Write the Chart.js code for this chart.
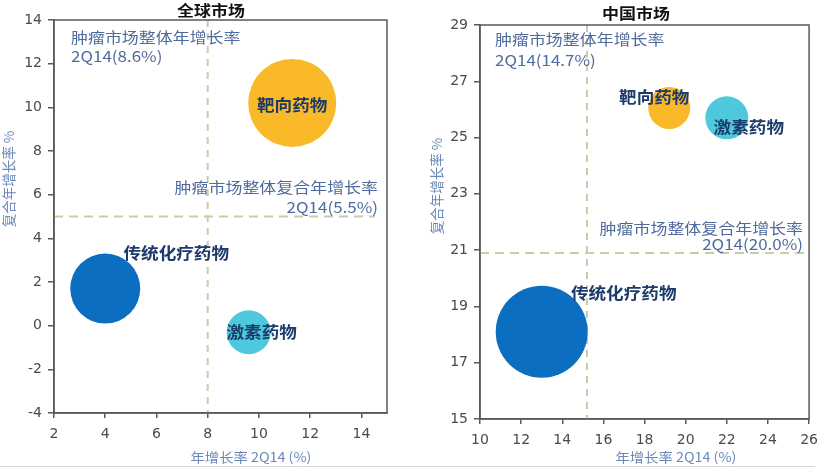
<!DOCTYPE html>
<html>
<head>
<meta charset="utf-8">
<script src="https://cdn.jsdelivr.net/npm/chart.js@4.4.1/dist/chart.umd.min.js"></script>
<style>
  html, body { margin:0; padding:0; background:#fff; }
  #wrap { position:relative; width:826px; height:474px; overflow:hidden; background:#fff; }
  #c1 { position:absolute; left:0; top:0; }
  #c2 { position:absolute; left:413px; top:0; }
  #sep { position:absolute; left:0; top:466px; width:815px; height:1px; background:#d4d4d4; }
</style>
</head>
<body>
<div id="wrap">
  <canvas id="c1" width="413" height="474"></canvas>
  <canvas id="c2" width="413" height="474"></canvas>
  <div id="sep"></div>
</div>
<script>
// ---------- DATA ----------
const categories = ['靶向药物', '传统化疗药物', '激素药物'];

const globalX    = [11.3, 4.0, 9.6];
const globalY    = [10.2, 1.7, -0.3];
const globalSize = [44, 35, 22];

const chinaX     = [19.2, 13.0, 22.0];
const chinaY     = [26.05, 18.1, 25.7];
const chinaSize  = [21, 46, 21.5];

const globalXTicks = [2, 4, 6, 8, 10, 12, 14];
const globalYTicks = [-4, -2, 0, 2, 4, 6, 8, 10, 12, 14];
const chinaXTicks  = [10, 12, 14, 16, 18, 20, 22, 24, 26];
const chinaYTicks  = [15, 17, 19, 21, 23, 25, 27, 29];

const globalRefX = 8.0;   // 肿瘤市场整体年增长率 line
const globalRefY = 5.0;   // 肿瘤市场整体复合年增长率 line
const chinaRefX  = 15.2;
const chinaRefY  = 20.9;

const titles     = ['全球市场', '中国市场'];
const xAxisTitle = '年增长率 2Q14 (%)';
const yAxisTitle = '复合年增长率 %';
const annoYearLabel = '肿瘤市场整体年增长率';
const annoCagrLabel = '肿瘤市场整体复合年增长率';
const globalAnno = ['2Q14(8.6%)', '2Q14(5.5%)'];
const chinaAnno  = ['2Q14(14.7%)', '2Q14(20.0%)'];

// ---------- STYLE ----------
const colors = ['#F9B928', '#0B6EC0', '#4DC8DC'];
const CJK = '"Noto Sans CJK SC", "Noto Sans", sans-serif';
const TICKF = '"DejaVu Sans", "Noto Sans", sans-serif';
const annoColor = '#4F6B9D';
const axisTitleColor = '#6A88B8';
const labelColor = '#1C3A6B';

function drawText(ctx, t) {
  ctx.save();
  ctx.font = t.font;
  ctx.fillStyle = t.color;
  ctx.textBaseline = 'middle';
  ctx.textAlign = t.align || 'center';
  ctx.translate(t.x, t.y);
  if (t.rot) ctx.rotate(t.rot);
  ctx.scale(t.sx || 1, 1);
  ctx.fillText(t.text, 0, 0);
  ctx.restore();
}

function makeChart(id, cfg) {
  const refPlugin = {
    id: 'refLines',
    beforeDatasetsDraw(chart) {
      const {ctx, chartArea: a, scales: {x, y}} = chart;
      ctx.save();
      ctx.strokeStyle = '#CBCBA6';
      ctx.lineWidth = 2;
      const px = x.getPixelForValue(cfg.refX);
      ctx.setLineDash([7, 6]);
      ctx.beginPath(); ctx.moveTo(px, a.top); ctx.lineTo(px, a.bottom); ctx.stroke();
      const py = y.getPixelForValue(cfg.refY);
      ctx.setLineDash([9, 6]);
      ctx.beginPath(); ctx.moveTo(a.left, py); ctx.lineTo(a.right - cfg.hlineInset, py); ctx.stroke();
      ctx.restore();
    },
    afterDraw(chart) {
      const {ctx, chartArea: a} = chart;
      ctx.save();
      ctx.strokeStyle = '#5a5a5a';
      ctx.lineWidth = 1.5;
      ctx.strokeRect(a.left, a.top, a.right - a.left, a.bottom - a.top);
      ctx.restore();
      const meta = chart.getDatasetMeta(0);
      meta.data.forEach((el, i) => {
        drawText(ctx, {
          text: categories[i], x: el.x + cfg.labelOff[i][0], y: el.y + cfg.labelOff[i][1],
          font: 'bold 16px ' + CJK, color: labelColor, sx: 1.1
        });
      });
      cfg.texts.forEach(t => drawText(ctx, t));
    }
  };

  return new Chart(document.getElementById(id), {
    type: 'bubble',
    data: {
      datasets: [{
        data: cfg.xs.map((v, i) => ({x: v, y: cfg.ys[i], r: cfg.rs[i]})),
        backgroundColor: colors,
        borderWidth: 0,
        hoverRadius: 0,
        clip: false
      }]
    },
    options: {
      responsive: false,
      animation: false,
      events: [],
      layout: { padding: cfg.padding, autoPadding: false },
      plugins: { legend: {display: false}, tooltip: {enabled: false} },
      scales: {
        x: {
          type: 'linear', min: cfg.xMin, max: cfg.xMax,
          afterBuildTicks: s => { s.ticks = cfg.xTicks.map(v => ({value: v})); },
          afterFit: s => { s.height = cfg.xAxisH; },
          grid: { drawOnChartArea: false, drawTicks: true, tickLength: 5, color: '#5a5a5a', lineWidth: 1.5 },
          border: { display: true, color: '#5a5a5a', width: 1.5 },
          ticks: { font: {family: TICKF, size: 14}, color: '#4a4a4a', padding: 8, maxRotation: 0 }
        },
        y: {
          type: 'linear', min: cfg.yMin, max: cfg.yMax,
          afterBuildTicks: s => { s.ticks = cfg.yTicks.map(v => ({value: v})); },
          afterFit: s => { s.width = cfg.yAxisW; },
          grid: { drawOnChartArea: false, drawTicks: true, tickLength: 6, color: '#5a5a5a', lineWidth: 1.5 },
          border: { display: true, color: '#5a5a5a', width: 1.5 },
          ticks: { font: {family: TICKF, size: 14}, color: '#4a4a4a', padding: 6 }
        }
      }
    },
    plugins: [refPlugin]
  });
}

makeChart('c1', {
  xs: globalX, ys: globalY, rs: globalSize,
  xMin: 2, xMax: 15, yMin: -4, yMax: 14,
  xTicks: globalXTicks, yTicks: globalYTicks,
  refX: globalRefX, refY: globalRefY, hlineInset: 12,
  padding: {left: 0, right: 26, top: 20, bottom: 0},
  xAxisH: 61, yAxisW: 54,
  labelOff: [[0, 2], [71, -36], [13, 0]],
  texts: [
    {text: titles[0], x: 211, y: 10, font: 'bold 15px ' + CJK, color: '#111', sx: 1.13},
    {text: yAxisTitle, x: 9, y: 179, font: '13.5px ' + CJK, color: axisTitleColor, rot: -Math.PI / 2},
    {text: xAxisTitle, x: 251, y: 457, font: '13px ' + CJK, color: axisTitleColor, sx: 1.1},
    {text: annoYearLabel, x: 71, y: 37, font: '15px ' + CJK, color: annoColor, align: 'left', sx: 1.13},
    {text: globalAnno[0], x: 71, y: 56, font: '15px ' + CJK, color: annoColor, align: 'left', sx: 1.13},
    {text: annoCagrLabel, x: 378, y: 187, font: '15px ' + CJK, color: annoColor, align: 'right', sx: 1.13},
    {text: globalAnno[1], x: 378, y: 207, font: '15px ' + CJK, color: annoColor, align: 'right', sx: 1.13}
  ]
});

makeChart('c2', {
  xs: chinaX, ys: chinaY, rs: chinaSize,
  xMin: 10, xMax: 26, yMin: 15, yMax: 29,
  xTicks: chinaXTicks, yTicks: chinaYTicks,
  refX: chinaRefX, refY: chinaRefY, hlineInset: 4,
  padding: {left: 0, right: 15, top: 25, bottom: 0},
  xAxisH: 55, yAxisW: 67,
  labelOff: [[-15, -11], [82, -39], [22, 9]],
  texts: [
    {text: titles[1], x: 223, y: 13, font: 'bold 15px ' + CJK, color: '#111', sx: 1.13},
    {text: yAxisTitle, x: 24, y: 186, font: '13.5px ' + CJK, color: axisTitleColor, rot: -Math.PI / 2},
    {text: xAxisTitle, x: 263, y: 457, font: '13px ' + CJK, color: axisTitleColor, sx: 1.1},
    {text: annoYearLabel, x: 82, y: 39, font: '15px ' + CJK, color: annoColor, align: 'left', sx: 1.13},
    {text: chinaAnno[0], x: 82, y: 60, font: '15px ' + CJK, color: annoColor, align: 'left', sx: 1.13},
    {text: annoCagrLabel, x: 390, y: 228, font: '15px ' + CJK, color: annoColor, align: 'right', sx: 1.13},
    {text: chinaAnno[1], x: 390, y: 244, font: '15px ' + CJK, color: annoColor, align: 'right', sx: 1.13}
  ]
});
</script>
</body>
</html>
